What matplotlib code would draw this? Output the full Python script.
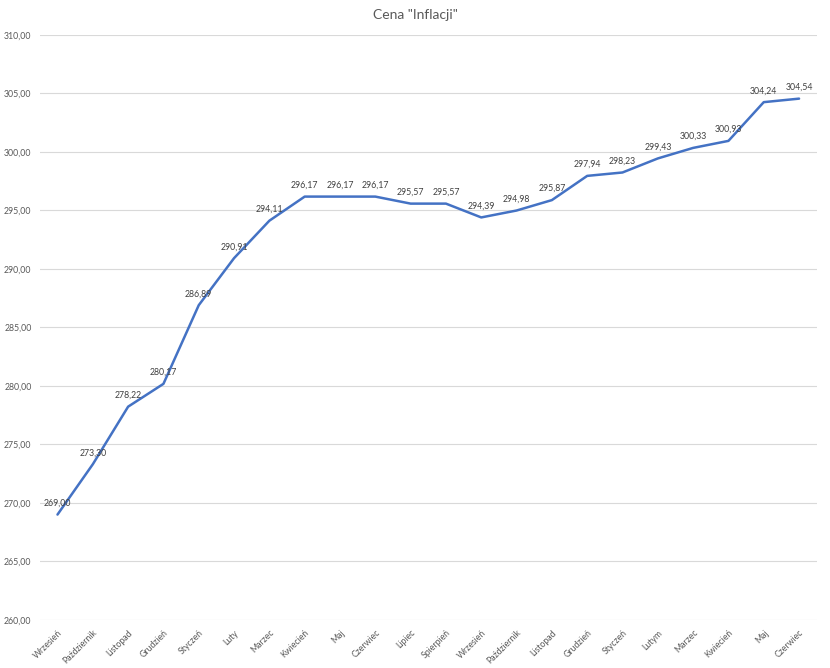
import matplotlib.pyplot as plt

plt.rcParams['font.family'] = ['Lato', 'DejaVu Sans']

miesiace = ["Wrzesień", "Październik", "Listopad", "Grudzień", "Styczeń", "Luty",
            "Marzec", "Kwiecień", "Maj", "Czerwiec", "Lipiec", "Spierpień",
            "Wrzesień", "Październik", "Listopad", "Grudzień", "Styczeń", "Lutym",
            "Marzec", "Kwiecień", "Maj", "Czerwiec"]
ceny = [269.00, 273.30, 278.22, 280.17, 286.89, 290.91, 294.11, 296.17, 296.17,
        296.17, 295.57, 295.57, 294.39, 294.98, 295.87, 297.94, 298.23, 299.43,
        300.33, 300.93, 304.24, 304.54]

fig = plt.figure(figsize=(8.3, 6.68), dpi=100)
ax = fig.add_axes([0.048, 0.072, 0.936, 0.876])

x = list(range(len(ceny)))
ax.plot(x, ceny, color='#4472C4', linewidth=1.8, solid_capstyle='round')

for xi, c in zip(x, ceny):
    ax.annotate(f"{c:.2f}".replace('.', ','), (xi, c), xytext=(0, 5),
                textcoords='offset points', ha='center', va='bottom',
                fontsize=6.3, color='#404040')

ax.set_xlim(-0.5, len(ceny) - 0.5)
ax.set_ylim(260, 310)
ax.set_yticks(range(260, 311, 5))
ax.set_yticklabels([f"{v},00" for v in range(260, 311, 5)], fontsize=6.3, color='#595959')
ax.set_xticks(x)
ax.set_xticklabels(miesiace, rotation=45, ha='right', va='top', rotation_mode='anchor',
                   fontsize=6.3, color='#595959')
ax.tick_params(length=0, pad=6)
ax.grid(axis='y', color='#D9D9D9', linewidth=0.8)
ax.set_axisbelow(True)
for s in ax.spines.values():
    s.set_visible(False)

fig.text(0.5, 0.977, 'Cena "Inflacji"', ha='center', va='center', fontsize=10, color='#595959')

fig.savefig('out.png', dpi=100)
